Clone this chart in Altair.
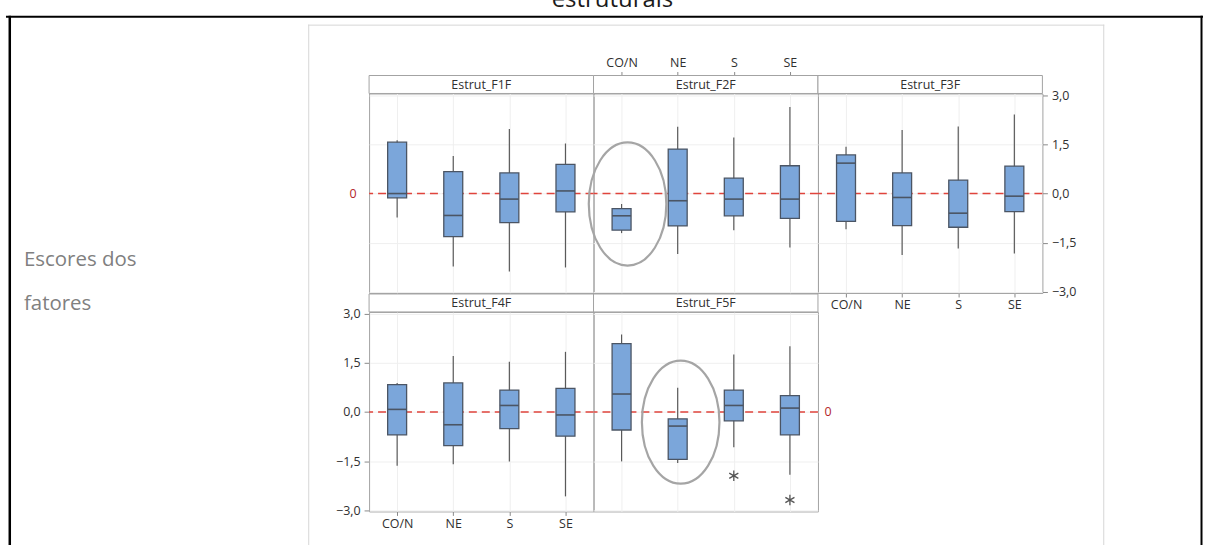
import altair as alt
import pandas as pd

# ------------------------------------------------------------------ data
categories = ["CO/N", "NE", "S", "SE"]
panel_names = ["Estrut_F1F", "Estrut_F2F", "Estrut_F3F", "Estrut_F4F", "Estrut_F5F"]

whisker_low = [
    [-0.73, -2.23, -2.38, -2.26],
    [-1.21, -1.85, -1.12, -1.65],
    [-1.09, -1.88, -1.68, -1.83],
    [-1.64, -1.60, -1.51, -2.58],
    [-1.51, -1.56, -1.08, -1.92],
]
q1_values = [
    [-0.13, -1.32, -0.89, -0.56],
    [-1.12, -0.99, -0.68, -0.76],
    [-0.85, -0.98, -1.03, -0.55],
    [-0.70, -1.03, -0.51, -0.74],
    [-0.55, -1.45, -0.27, -0.70],
]
median_values = [
    [0.00, -0.67, -0.17, 0.08],
    [-0.68, -0.22, -0.17, -0.17],
    [0.93, -0.12, -0.60, -0.08],
    [0.08, -0.39, 0.20, -0.09],
    [0.55, -0.43, 0.20, 0.12],
]
q3_values = [
    [1.57, 0.67, 0.63, 0.89],
    [-0.46, 1.36, 0.47, 0.85],
    [1.18, 0.63, 0.41, 0.84],
    [0.84, 0.89, 0.67, 0.72],
    [2.09, -0.21, 0.67, 0.50],
]
whisker_high = [
    [1.63, 1.15, 1.97, 1.53],
    [-0.32, 2.04, 1.71, 2.65],
    [1.43, 1.94, 2.05, 2.42],
    [0.89, 1.71, 1.54, 1.84],
    [2.37, 0.74, 1.76, 2.01],
]
outlier_panel = ["Estrut_F5F", "Estrut_F5F"]
outlier_region = ["S", "SE"]
outlier_value = [-1.95, -2.69]

highlight_panel = ["Estrut_F2F", "Estrut_F5F"]
highlight_region = ["CO/N", "NE"]
highlight_center = [-0.32, -0.31]

reference_value = [0]
y_tick_values = [-3.0, -1.5, 0.0, 1.5, 3.0]
title_text = "estruturais"
side_label_lines = ["Escores dos", "fatores"]

rows = []
for p, name in enumerate(panel_names):
    for c, cat in enumerate(categories):
        rows.append(dict(panel=name, region=cat, low=whisker_low[p][c], q1=q1_values[p][c],
                         median=median_values[p][c], q3=q3_values[p][c], high=whisker_high[p][c]))
box_df = pd.DataFrame(rows)
out_df = pd.DataFrame({"panel": outlier_panel, "region": outlier_region, "value": outlier_value})
hl_df = pd.DataFrame({"panel": highlight_panel, "region": highlight_region, "value": highlight_center})
ref_df = pd.DataFrame({"ref": reference_value})
one = pd.DataFrame({"k": [0]})

# ------------------------------------------------------------------ style
FONT = "Open Sans"
W, H, STRIP = 225, 200, 18
Y_DOMAIN = [-3.04, 3.06]
BLUE = "#7ba6da"
EDGE = "#4b5564"
WHISK = "#5a5a5a"
RED = "#e0443c"
ZERO_TXT = "#b3272a"
FRAME = "#a3a3a3"
GRID = "#efefef"
LBL = "#303030"

ELLIPSE = "M -0.63 0 A 0.63 1 0 1 0 0.63 0 A 0.63 1 0 1 0 -0.63 0 Z"
ASTERISK = "M 0 -1 L 0 1 M -0.87 -0.5 L 0.87 0.5 M -0.87 0.5 L 0.87 -0.5"


def x_axis(show, orient="bottom", offset=0):
    if show:
        return alt.Axis(title=None, orient=orient, offset=offset, labelAngle=0, labelFont=FONT,
                        labelFontSize=12.5, labelColor=LBL, labelPadding=2, ticks=True, tickSize=4,
                        tickColor="#8a8a8a", domain=False, grid=True, gridColor=GRID)
    return alt.Axis(title=None, labels=False, ticks=False, domain=False, grid=True, gridColor=GRID)


def y_axis(show, orient="left"):
    if show:
        return alt.Axis(title=None, orient=orient, values=y_tick_values, labelFont=FONT,
                        labelFontSize=12.5, labelColor=LBL, labelPadding=4, ticks=True, tickSize=5,
                        tickColor="#8a8a8a", domain=False, grid=True, gridColor=GRID,
                        labelExpr="replace(format(datum.value, '.1f'), '.', ',')")
    return alt.Axis(title=None, values=y_tick_values, labels=False, ticks=False, domain=False,
                    grid=True, gridColor=GRID)


def hrule(x1, x2, y, color, w):
    return alt.Chart(one).mark_rule(color=color, strokeWidth=w).encode(
        x=alt.value(x1), x2=alt.value(x2), y=alt.value(y))


def vrule(x, y1, y2, color, w):
    return alt.Chart(one).mark_rule(color=color, strokeWidth=w).encode(
        x=alt.value(x), y=alt.value(y1), y2=alt.value(y2))


def panel(p, xa, ya, zero_x=None, hl_dx=0, extra=None):
    name = panel_names[p]
    X = alt.X("region:N", scale=alt.Scale(type="point", domain=categories, padding=0.5), axis=xa)
    ys = alt.Scale(domain=Y_DOMAIN, nice=False, zero=False)

    def Y(field):
        return alt.Y(field, type="quantitative", scale=ys, axis=ya)

    base = alt.Chart(box_df[box_df.panel == name])
    layers = []
    if extra:
        layers += extra
    layers.append(alt.Chart(ref_df).mark_rule(color=RED, strokeDash=[8, 5], strokeWidth=1.6)
                  .encode(y=Y("ref")))
    layers.append(base.mark_rule(color=WHISK, strokeWidth=1.2)
                  .encode(x=X, y=Y("low"), y2="high"))
    layers.append(base.mark_bar(size=19, fill=BLUE, stroke=EDGE, strokeWidth=1.3)
                  .encode(x=X, y=Y("q1"), y2="q3"))
    layers.append(base.mark_tick(size=19, thickness=1.6, color=EDGE, opacity=1)
                  .encode(x=X, y=Y("median")))
    od = out_df[out_df.panel == name]
    if len(od):
        layers.append(alt.Chart(od).mark_point(shape=ASTERISK, size=110, filled=False, color="#555555",
                                               strokeWidth=1.3, opacity=1)
                      .encode(x=X, y=Y("value")))
    hd = hl_df[hl_df.panel == name]
    if len(hd):
        layers.append(alt.Chart(hd).mark_point(shape=ELLIPSE, size=15228, filled=False, color="#a5a5a5",
                                               strokeWidth=2.2, opacity=1)
                      .encode(x=X, y=Y("value"), xOffset=alt.value(hl_dx)))
    sd = pd.DataFrame({"panel": [name]})
    layers.append(alt.Chart(sd).mark_rect(fill="white", stroke=FRAME, strokeWidth=1)
                  .encode(x=alt.value(0), x2=alt.value(W), y=alt.value(-STRIP), y2=alt.value(0)))
    layers.append(alt.Chart(sd).mark_text(font=FONT, fontSize=12.5, color=LBL, align="center",
                                          baseline="middle")
                  .encode(x=alt.value(W / 2), y=alt.value(-STRIP / 2 + 0.5), text="panel:N"))
    if zero_x is not None:
        layers.append(alt.Chart(ref_df).mark_text(font=FONT, fontSize=12.5, color=ZERO_TXT,
                                                  align="center", baseline="middle")
                      .encode(x=alt.value(zero_x), y=Y("ref"), text=alt.Text("ref:Q", format="d")))
    return alt.layer(*layers).properties(width=W, height=H)


# page decorations, positioned relative to the first panel (page origin = -369, -92)
page = [
    alt.Chart(one).mark_rect(fill="white", opacity=0).encode(
        x=alt.value(-369), x2=alt.value(836), y=alt.value(-122), y2=alt.value(453)),
    vrule(-60.5, -69, 470, "#d6d6d6", 1),
    hrule(-61, 737, -68.5, "#d6d6d6", 1),
    vrule(736.5, -69, 470, "#d6d6d6", 1),
    hrule(-364, 836, -77, "#000000", 2),
    vrule(-360.2, -78, 470, "#000000", 2.5),
    vrule(834.5, -78, 470, "#000000", 2),
    alt.Chart(one).mark_text(font=FONT, fontSize=24, color="#1a1a1a", align="center",
                             baseline="alphabetic")
    .encode(x=alt.value(244), y=alt.value(-87), text=alt.value(title_text)),
    alt.Chart(one).mark_text(font=FONT, fontSize=20.5, color="#808080", align="left",
                             baseline="alphabetic")
    .encode(x=alt.value(-346), y=alt.value(173), text=alt.value(side_label_lines[0])),
    alt.Chart(one).mark_text(font=FONT, fontSize=20.5, color="#808080", align="left",
                             baseline="alphabetic")
    .encode(x=alt.value(-346), y=alt.value(217), text=alt.value(side_label_lines[1])),
]

p1 = panel(0, x_axis(False), y_axis(False), zero_x=-16, extra=page)
p2 = panel(1, x_axis(True, "top", STRIP), y_axis(False), hl_dx=6)
p3 = panel(2, x_axis(True, "bottom"), y_axis(True, "right"))
p4 = panel(3, x_axis(True, "bottom"), y_axis(True, "left"))
p5 = panel(4, x_axis(False), y_axis(False), zero_x=W + 10, hl_dx=3)

chart = alt.concat(p1, p2, p3, p4, p5, columns=3, spacing={"row": 19, "column": 0},
                   bounds="flush").properties(
    padding={"left": 0, "top": -30, "right": 0, "bottom": 0},
    background="white",
).configure_view(stroke=FRAME, strokeWidth=1)

chart.save("out.html", embed_options={"renderer": "svg", "actions": False})
